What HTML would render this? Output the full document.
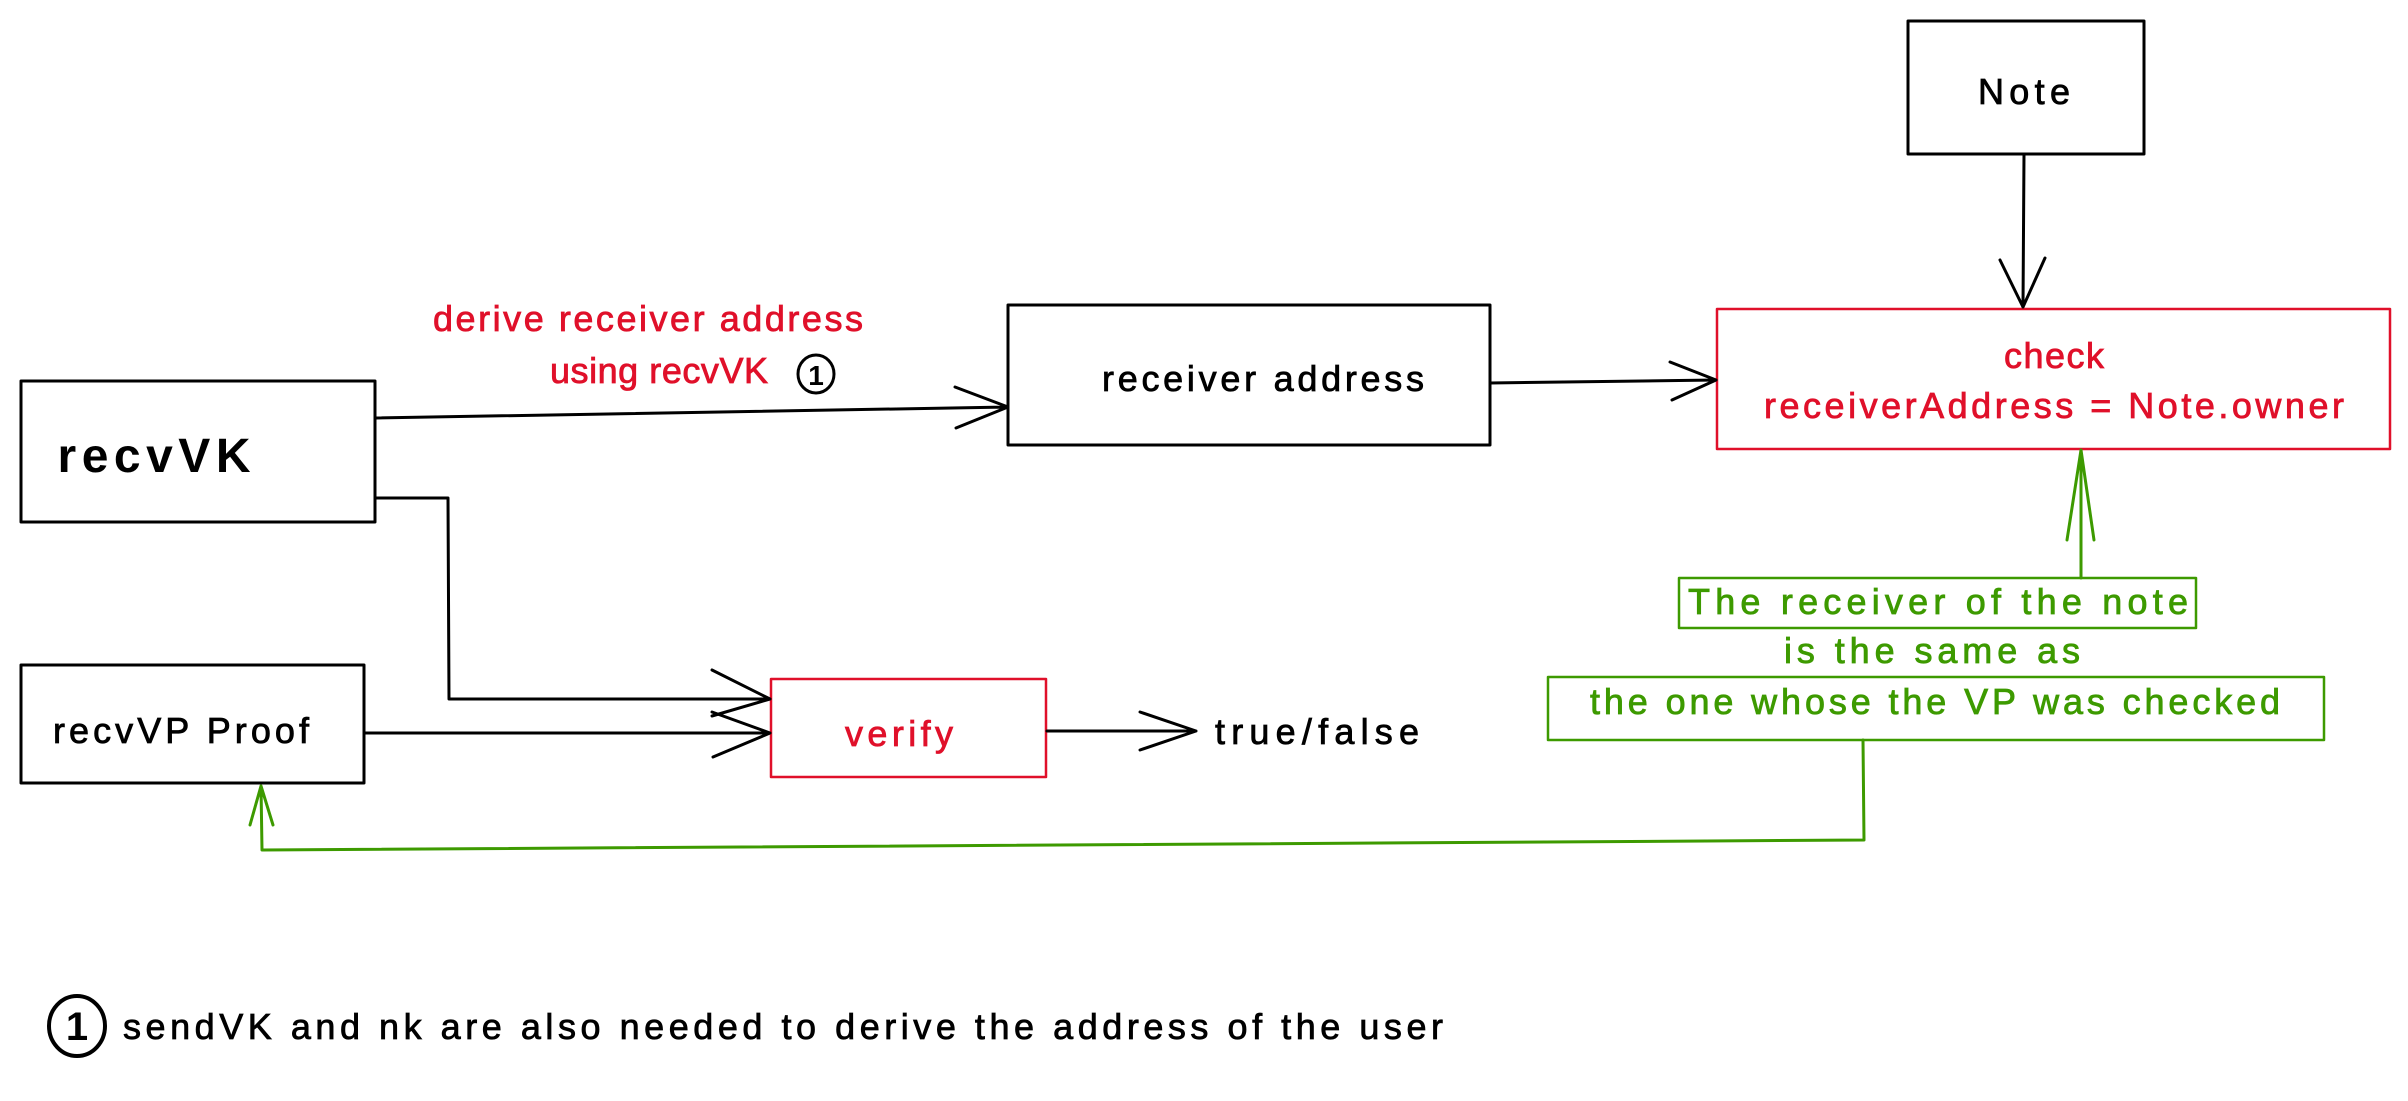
<!DOCTYPE html>
<html><head><meta charset="utf-8"><style>
html,body{margin:0;padding:0;background:#fff;}
svg{display:block;}
text{font-family:"Liberation Sans",sans-serif;}
</style></head><body>
<svg width="2408" height="1101" viewBox="0 0 2408 1101" xmlns="http://www.w3.org/2000/svg">
<g fill="none" stroke-width="3" stroke-linecap="round" stroke-linejoin="round">
<rect x="1908" y="21" width="236" height="133" stroke="#000"/>
<rect x="1717" y="309" width="673" height="140" stroke="#e0102a" stroke-width="2.5"/>
<rect x="1008" y="305" width="482" height="140" stroke="#000"/>
<rect x="21" y="381" width="354" height="141" stroke="#000"/>
<rect x="21" y="665" width="343" height="118" stroke="#000"/>
<rect x="771" y="679" width="275" height="98" stroke="#e0102a" stroke-width="2.5"/>
<rect x="1679" y="578" width="517" height="50" stroke="#3d9a00" stroke-width="2.5"/>
<rect x="1548" y="677" width="776" height="63" stroke="#3d9a00" stroke-width="2.5"/>

<path d="M2024 154 L2023 307 M2000 260 L2023 307 L2045 258" stroke="#000"/>
<path d="M1490 383 L1716 380 M1670 362 L1716 380 L1672 400" stroke="#000"/>
<path d="M376 418 L1008 407 M955 387 L1008 407 L956 428" stroke="#000"/>
<path d="M376 498 L448 498 L449 699 L770 699 M712 670 L770 699 L712 716" stroke="#000"/>
<path d="M365 733 L770 733 M712 712 L770 733 L713 757" stroke="#000"/>
<path d="M1047 731 L1196 731 M1140 712 L1196 731 L1140 750" stroke="#000"/>
<path d="M2081 578 L2081 450 M2067 540 L2081 450 L2094 540" stroke="#3d9a00"/>
<path d="M1863 740 L1864 840 L262 850 L261 786 M250 825 L261 786 L273 825" stroke="#3d9a00"/>
<ellipse cx="816" cy="374" rx="18" ry="19" stroke="#000"/>
<ellipse cx="77" cy="1026" rx="28" ry="30" stroke="#000" stroke-width="4"/>
</g>
<g font-size="36" text-anchor="middle" stroke-width="0.8">
<text x="2024" y="104" fill="#000" stroke="#000" textLength="92">Note</text>
<text x="2054" y="368" fill="#e0102a" stroke="#e0102a" textLength="100">check</text>
<text x="2054" y="418" fill="#e0102a" stroke="#e0102a" textLength="580">receiverAddress = Note.owner</text>
<text x="1263" y="391" fill="#000" stroke="#000" textLength="322">receiver address</text>
<text x="154" y="472" fill="#000" font-size="48" font-weight="bold" textLength="193">recvVK</text>
<text x="181" y="743" fill="#000" stroke="#000" textLength="256">recvVP Proof</text>
<text x="899" y="746" fill="#e0102a" stroke="#e0102a" textLength="108">verify</text>
<text x="1317" y="744" fill="#000" stroke="#000" textLength="204">true/false</text>
<text x="648" y="331" fill="#e0102a" stroke="#e0102a" textLength="430">derive receiver address</text>
<text x="659" y="383" fill="#e0102a" stroke="#e0102a" textLength="218">using recvVK</text>
<text x="816" y="385" fill="#000" font-size="28" font-weight="bold">1</text>
<text x="1938" y="614" fill="#3d9a00" stroke="#3d9a00" textLength="500">The receiver of the note</text>
<text x="1932" y="663" fill="#3d9a00" stroke="#3d9a00" textLength="296">is the same as</text>
<text x="1935" y="714" fill="#3d9a00" stroke="#3d9a00" textLength="690">the one whose the VP was checked</text>
<text x="77" y="1040" fill="#000" font-size="40" font-weight="bold">1</text>
</g>
<text x="123" y="1039" font-size="36" fill="#000" stroke="#000" stroke-width="0.8" textLength="1320">sendVK and nk are also needed to derive the address of the user</text>
</svg>
</body></html>
